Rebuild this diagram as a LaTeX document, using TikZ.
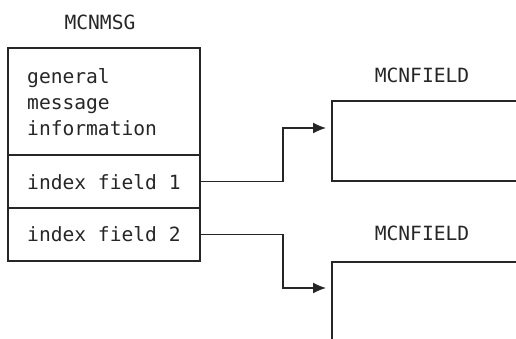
\documentclass[tikz,border=0pt]{standalone}
\usepackage{fontspec}
\setmonofont{DejaVu Sans Mono}
\usetikzlibrary{arrows.meta}
\definecolor{ink}{HTML}{262626}
\begin{document}
\begin{tikzpicture}[x=1pt,y=1pt,
  every node/.style={font=\ttfamily\fontsize{19.6}{26}\selectfont, text=ink},
  cell/.style={draw=ink, line width=1.3pt, minimum width=192pt, inner sep=0pt, outer sep=0pt},
  wire/.style={draw=ink, line width=1.3pt},
  arrowwire/.style={wire, -{Latex[length=13pt,width=11pt]}},
  label/.style={inner sep=0pt}]
\useasboundingbox (0,0) rectangle (516,339);
% left structure
\node[label] (msg) at (100,317) {MCNMSG};
\node[cell, minimum height=107pt, anchor=north west] (gen) at (8,291) {};
\node[cell, minimum height=53pt, anchor=north west] (f1) at (8,184) {};
\node[cell, minimum height=53pt, anchor=north west] (f2) at (8,131) {};
\node[label, anchor=west, align=left] (gentext) at (27,237) {general\\message\\information};
\node[label, anchor=west] (f1text) at (27,157) {index field 1};
\node[label, anchor=west] (f2text) at (27,105) {index field 2};
% right structures
\node[label] (fld1) at (422,264) {MCNFIELD};
\node[label] (fld2) at (422,106) {MCNFIELD};
\coordinate (b1) at (332,211);
\coordinate (b2) at (332,51);
\draw[wire] (516,238) -- (332,238) -- (332,158) -- (516,158);
\draw[wire] (516,77) -- (332,77) -- (332,0);
% connectors
\draw[arrowwire] (f1.east) -- ++(83,0) |- ([xshift=-6pt]b1);
\draw[arrowwire] (f2.east) -- ++(83,0) |- ([xshift=-6pt]b2);
\end{tikzpicture}
\end{document}
